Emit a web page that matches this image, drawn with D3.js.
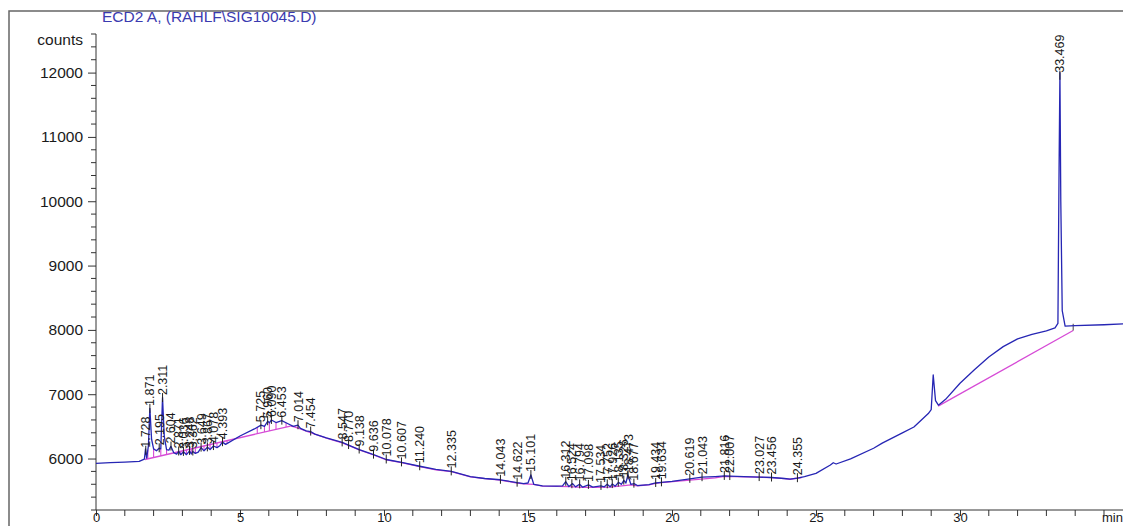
<!DOCTYPE html>
<html>
<head>
<meta charset="utf-8">
<script src="https://cdn.jsdelivr.net/npm/d3@7"></script>
<style>
  html, body { margin: 0; padding: 0; background: #fff; }
  svg { display: block; font-family: "Liberation Sans", Arial, sans-serif; }
</style>
</head>
<body>
<svg id="chart" width="1123" height="526"></svg>
<script>
// ECD2 A signal: retention time (min) and detector counts
const traceTime = [
  0.00, 0.50, 1.00, 1.50, 1.68, 1.72, 1.76, 1.82, 1.87, 1.93, 2.00, 2.10, 2.19, 2.25, 2.31, 2.37,
  2.45, 2.53, 2.60, 2.70, 2.80, 2.87, 2.94, 3.04, 3.14, 3.25, 3.31, 3.36, 3.45, 3.55, 3.65, 3.75,
  3.87, 3.96, 4.08, 4.20, 4.30, 4.39, 4.50, 5.00, 5.50, 5.73, 5.85, 5.96, 6.02, 6.09, 6.25, 6.45,
  6.65, 6.85, 7.01, 7.10, 7.30, 7.45, 7.60, 8.00, 8.55, 8.77, 9.14, 9.64, 10.08, 10.61, 11.24, 11.80,
  12.34, 13.00, 13.50, 14.04, 14.62, 14.85, 15.00, 15.10, 15.20, 15.50, 16.00, 16.20, 16.31, 16.42,
  16.55, 16.65, 16.79, 16.90, 17.10, 17.25, 17.53, 17.65, 17.75, 17.85, 17.93, 18.03, 18.14, 18.24,
  18.33, 18.40, 18.47, 18.57, 18.68, 18.80, 19.20, 19.43, 19.63, 20.00, 20.62, 21.04, 21.50, 21.82,
  22.01, 22.50, 23.03, 23.46, 23.90, 24.10, 24.36, 24.60, 25.00, 25.50, 25.60, 25.70, 26.20, 27.00,
  27.30, 28.00, 28.40, 28.90, 29.00, 29.07, 29.15, 29.25, 29.50, 30.00, 30.50, 31.00, 31.50, 32.00,
  32.50, 33.00, 33.30, 33.40, 33.44, 33.47, 33.50, 33.55, 33.65, 34.00, 35.00, 35.70
];
const traceCounts = [
  5925, 5935, 5945, 5955, 5990, 6150, 6005, 6200, 6780, 6300, 6150, 6120, 6160, 6150, 6950, 6350,
  6140, 6130, 6190, 6090, 6070, 6110, 6060, 6105, 6060, 6120, 6070, 6110, 6080, 6100, 6170, 6120,
  6175, 6140, 6195, 6170, 6200, 6255, 6220, 6350, 6460, 6520, 6500, 6580, 6555, 6600, 6560, 6590,
  6545, 6500, 6520, 6470, 6430, 6420, 6380, 6320, 6250, 6210, 6140, 6060, 5985, 5940, 5880, 5830,
  5800, 5720, 5690, 5670, 5625, 5610, 5620, 5745, 5600, 5575, 5570, 5575, 5640, 5565,
  5610, 5560, 5600, 5555, 5590, 5555, 5575, 5560, 5600, 5560, 5605, 5570, 5630, 5600,
  5660, 5620, 5745, 5600, 5610, 5580, 5595, 5620, 5630, 5645, 5685, 5710, 5720, 5730,
  5728, 5718, 5712, 5705, 5690, 5680, 5695, 5720, 5770, 5900, 5935, 5915, 5995, 6160,
  6240, 6400, 6490, 6700, 6760, 7300, 6900, 6830, 6920, 7170, 7380, 7580, 7740, 7860,
  7930, 7985, 8030, 8100, 10500, 12000, 10000, 8300, 8060, 8065, 8080, 8095
];

// Integration baselines (time, counts)
const baseATime = [1.70, 6.75];
const baseACounts = [5985, 6505];
const baseBTime = [6.75, 6.85, 7.10, 7.30, 7.60, 8.00, 8.55, 8.77, 9.14, 9.64, 10.08, 10.61, 11.24, 11.80,
  12.34, 13.00, 13.50, 14.04, 14.62, 14.85, 15.20, 15.50, 16.00, 16.42, 16.90, 17.25, 17.85, 18.57,
  18.80, 19.20, 19.43, 19.63];
const baseBCounts = [6505, 6498, 6462, 6424, 6378, 6318, 6245, 6205, 6135, 6055, 5980, 5935, 5875, 5825,
  5795, 5715, 5688, 5665, 5620, 5606, 5597, 5572, 5566, 5562, 5552, 5552, 5557, 5590,
  5577, 5590, 5615, 5625];
const baseCTime = [19.63, 20.62, 21.50, 21.82, 22.50, 23.03, 23.46, 23.90, 24.10, 24.50];
const baseCCounts = [5625, 5665, 5700, 5722, 5716, 5710, 5703, 5688, 5678, 5705];
const baseDTime = [29.24, 33.93];
const baseDCounts = [6815, 7990];

// Peak boundary drop lines on the first baseline
const dropTimes = [1.80, 2.00, 2.25, 2.45, 2.70, 2.94, 3.14, 3.31, 3.45, 3.75, 3.96, 4.20, 4.55,
  5.60, 5.85, 6.02, 6.25, 6.60];

// Retention time labels
const peakLabels = ["1.728", "1.871", "2.195", "2.311", "2.604", "2.871", "3.036", "3.248", "3.362",
  "3.649", "3.867", "4.078", "4.393", "5.725", "5.960", "6.090", "6.453", "7.014", "7.454", "8.547",
  "8.770", "9.138", "9.636", "10.078", "10.607", "11.240", "12.335", "14.043", "14.622", "15.101",
  "16.312", "16.524", "16.794", "17.098", "17.534", "17.752", "17.926", "18.135", "18.326", "18.473",
  "18.677", "19.434", "19.634", "20.619", "21.043", "21.816", "22.007", "23.027", "23.456", "24.355",
  "33.469"];

// Axis ticks
const yMajorTicks = [6000, 7000, 8000, 9000, 10000, 11000, 12000];
const xMajorTicks = [0, 5, 10, 15, 20, 25, 30];

const svg = d3.select("#chart");
const x = d3.scaleLinear().domain([0, 35.66]).range([96, 1123]);
const y = d3.scaleLinear().domain([5200, 12600]).range([510, 34]);

const ink = "#333";
const textInk = "#1a1a1a";
const traceColor = "#2626b4";
const baseColor = "#d64bd6";

// frame
svg.append("path")
  .attr("d", "M9,530 L9,11 L1130,11")
  .attr("fill", "none").attr("stroke", "#666").attr("stroke-width", 1.5);

// title
svg.append("text")
  .attr("x", 102).attr("y", 22)
  .attr("font-size", 15.5).attr("fill", "#3b3bb0")
  .text("ECD2 A,  (RAHLF\\SIG10045.D)");

// y axis
const yAxis = d3.axisLeft(y).tickValues(yMajorTicks).tickSize(8).tickPadding(5).tickFormat(d3.format("d"));
const gy = svg.append("g").attr("transform", "translate(96,0)").call(yAxis);
gy.select(".domain").attr("stroke", ink).attr("d", `M0,${y(12600)}V${y(5200)}`);
gy.selectAll(".tick line").attr("stroke", ink);
gy.selectAll(".tick text").attr("font-size", 15.5).attr("fill", textInk).attr("font-family", "Liberation Sans, Arial, sans-serif");
const yMinor = d3.range(5200, 12601, 200).filter(v => !yMajorTicks.includes(v));
svg.append("g").selectAll("line").data(yMinor).join("line")
  .attr("x1", 91).attr("x2", 96).attr("y1", d => y(d)).attr("y2", d => y(d))
  .attr("stroke", ink);
svg.append("text")
  .attr("x", 83).attr("y", 45).attr("text-anchor", "end")
  .attr("font-size", 15.5).attr("fill", textInk).text("counts");

// x axis
const xAxis = d3.axisBottom(x).tickValues(xMajorTicks).tickSize(6).tickPadding(0).tickFormat(d3.format("d"));
const gx = svg.append("g").attr("transform", "translate(0,510)").call(xAxis);
gx.select(".domain").attr("stroke", ink).attr("d", `M${x(0)},0H1123`);
gx.selectAll(".tick line").attr("stroke", ink);
gx.selectAll(".tick text")
  .attr("y", 12).attr("dy", null)
  .attr("font-size", 13).attr("fill", textInk).attr("font-family", "Liberation Sans, Arial, sans-serif");
const xMinor = d3.range(0, 36, 1).filter(v => !xMajorTicks.includes(v));
svg.append("g").selectAll("line").data(xMinor).join("line")
  .attr("x1", d => x(d)).attr("x2", d => x(d)).attr("y1", 510).attr("y2", 516)
  .attr("stroke", ink);
svg.append("text")
  .attr("x", x(35) - 2).attr("y", 522).attr("font-size", 13).attr("fill", textInk).text("min");

// helpers
function interp(ts, vs, t) {
  const i = d3.bisectRight(ts, t);
  if (i <= 0) return vs[0];
  if (i >= ts.length) return vs[vs.length - 1];
  const f = (t - ts[i - 1]) / (ts[i] - ts[i - 1]);
  return vs[i - 1] + f * (vs[i] - vs[i - 1]);
}
const line = d3.line().x(d => x(d[0])).y(d => y(d[1]));
const zipPts = (ts, vs) => ts.map((t, i) => [t, vs[i]]);

// integration baselines
const baseSegs = [[baseATime, baseACounts], [baseBTime, baseBCounts], [baseCTime, baseCCounts], [baseDTime, baseDCounts]];
svg.append("g").selectAll("path").data(baseSegs).join("path")
  .attr("d", d => line(zipPts(d[0], d[1])))
  .attr("fill", "none").attr("stroke", baseColor).attr("stroke-width", 1.3);

// drop lines from baseline to signal
svg.append("g").selectAll("line").data(dropTimes).join("line")
  .attr("x1", d => x(d)).attr("x2", d => x(d))
  .attr("y1", d => y(interp(baseATime, baseACounts, d)))
  .attr("y2", d => y(interp(traceTime, traceCounts, d)))
  .attr("stroke", baseColor).attr("stroke-width", 1.1);

// baseline end mark
svg.append("line")
  .attr("x1", x(33.93)).attr("x2", x(33.93))
  .attr("y1", y(7990)).attr("y2", y(interp(traceTime, traceCounts, 33.93)) - 2)
  .attr("stroke", "#444").attr("stroke-width", 1);

// signal
svg.append("path")
  .attr("d", line(zipPts(traceTime, traceCounts)))
  .attr("fill", "none").attr("stroke", traceColor).attr("stroke-width", 1.3)
  .attr("stroke-linejoin", "round");

// peak marks and labels
const peaks = peakLabels.map(s => {
  const t = +s;
  return { s, t, v: interp(traceTime, traceCounts, t) };
});
const gp = svg.append("g");
gp.selectAll("line").data(peaks).join("line")
  .attr("x1", d => x(d.t)).attr("x2", d => x(d.t))
  .attr("y1", d => y(d.v) - 5).attr("y2", d => y(d.v) + 4)
  .attr("stroke", "#222").attr("stroke-width", 1);
gp.selectAll("text").data(peaks).join("text")
  .attr("transform", d => `translate(${x(d.t)},${y(d.v) - 3}) rotate(-90)`)
  .attr("dy", "0.36em")
  .attr("font-size", 12.5).attr("fill", textInk)
  .text(d => d.s);
</script>
</body>
</html>
